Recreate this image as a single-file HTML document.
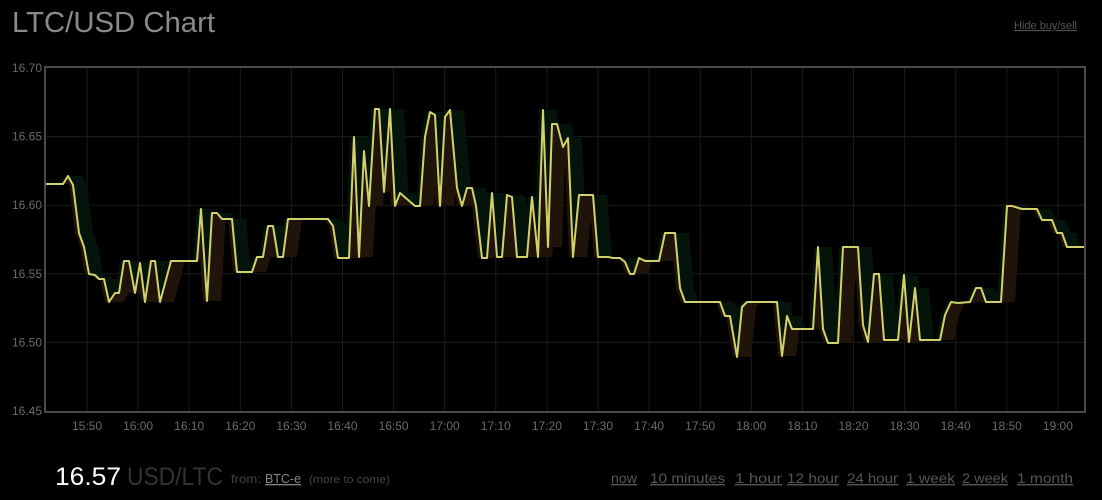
<!DOCTYPE html>
<html><head><meta charset="utf-8"><style>
html,body{margin:0;padding:0;background:#000;width:1102px;height:500px;overflow:hidden;font-family:"Liberation Sans",sans-serif}
svg text{font-family:"Liberation Sans",sans-serif}
</style></head><body>
<svg id="s" width="1102" height="500" xmlns="http://www.w3.org/2000/svg">
<rect width="1102" height="500" fill="#000"/>
<text x="12" y="32" font-size="29" fill="#8a8a8a" textLength="203" lengthAdjust="spacingAndGlyphs">LTC/USD Chart</text>
<text x="1077" y="29" font-size="11" fill="#555" text-anchor="end" text-decoration="underline">Hide buy/sell</text>
<g id="grid" stroke="#1b1b1b" stroke-width="1"></g>
<g id="fills"></g>
<polyline id="line" fill="none" stroke="#d2d26a" stroke-width="2" stroke-linejoin="round"/>
<rect x="45" y="67" width="1040" height="345" fill="none" stroke="#4a4a4a" stroke-width="2"/>
<g id="ylab" font-size="12" fill="#6a6a6a" text-anchor="end"></g>
<g id="xlab" font-size="12" fill="#6a6a6a" text-anchor="middle"></g>
<text x="55" y="485" font-size="25" fill="#fff" textLength="66" lengthAdjust="spacingAndGlyphs">16.57</text>
<text x="127" y="485" font-size="25" fill="#333" textLength="96" lengthAdjust="spacingAndGlyphs">USD/LTC</text>
<text x="231" y="483" font-size="12" fill="#444" textLength="30" lengthAdjust="spacingAndGlyphs">from:</text>
<text x="265" y="483" font-size="13" fill="#888" text-decoration="underline" textLength="36" lengthAdjust="spacingAndGlyphs">BTC-e</text>
<text x="309" y="483" font-size="11" fill="#444" textLength="81" lengthAdjust="spacingAndGlyphs">(more to come)</text>
<g font-size="14" fill="#555" text-decoration="underline">
<text x="611" y="483" textLength="26" lengthAdjust="spacingAndGlyphs">now</text>
<text x="650" y="483" textLength="75" lengthAdjust="spacingAndGlyphs">10 minutes</text>
<text x="735" y="483" textLength="47" lengthAdjust="spacingAndGlyphs">1 hour</text>
<text x="787" y="483" textLength="52" lengthAdjust="spacingAndGlyphs">12 hour</text>
<text x="847" y="483" textLength="51" lengthAdjust="spacingAndGlyphs">24 hour</text>
<text x="906" y="483" textLength="49" lengthAdjust="spacingAndGlyphs">1 week</text>
<text x="962" y="483" textLength="46" lengthAdjust="spacingAndGlyphs">2 week</text>
<text x="1017" y="483" textLength="56" lengthAdjust="spacingAndGlyphs">1 month</text>
</g>
</svg>
<script>
var NS="http://www.w3.org/2000/svg";
function el(t,a,p){var e=document.createElementNS(NS,t);for(var k in a)e.setAttribute(k,a[k]);p.appendChild(e);return e;}
var grid=document.getElementById('grid'),yl=document.getElementById('ylab'),xl=document.getElementById('xlab');
var ys=[16.70,16.65,16.60,16.55,16.50,16.45];
ys.forEach(function(v,i){var y=68+i*68.6;if(i>0&&i<5)el('line',{x1:45,x2:1085,y1:y,y2:y},grid);var t=el('text',{x:42,y:y+4},yl);t.textContent=v.toFixed(2);});
var lab=["15:50","16:00","16:10","16:20","16:30","16:40","16:50","17:00","17:10","17:20","17:30","17:40","17:50","18:00","18:10","18:20","18:30","18:40","18:50","19:00"];
lab.forEach(function(l,i){var x=87+i*51.1;el('line',{x1:x,x2:x,y1:67,y2:412},grid);var t=el('text',{x:x,y:430},xl);t.textContent=l;});
var P=[[46,184],[63,184],[68,176],[73,185],[79,233],[84,247],[89,274],[95,275],[99,279],[104,279],[109,302],[115,293],[119,293],[124,261],[129,261],[135,293],[140,263],[145,302],[151,261],[155,261],[160,302],[171,261],[197,261],[201,209],[207,301],[212,213],[217,213],[222,219],[232,219],[237,272],[252,272],[257,257],[263,257],[268,226],[273,226],[278,257],[283,257],[288,219],[328,219],[333,226],[338,258],[349,258],[354,137],[359,257],[364,151],[369,206],[375,109],[379,109],[384,192],[390,109],[395,206],[400,193],[415,206],[420,206],[425,137],[430,112],[435,115],[440,206],[445,117],[450,110],[457,188],[462,206],[467,188],[472,188],[476,206],[482,258],[487,258],[492,193],[497,257],[502,257],[507,195],[512,197],[517,257],[527,257],[532,197],[538,257],[543,110],[548,247],[552,124],[557,124],[563,147],[568,138],[573,257],[579,195],[593,195],[598,257],[608,257],[613,258],[620,258],[625,262],[630,274],[634,274],[639,258],[645,261],[659,261],[665,233],[675,233],[680,288],[685,302],[720,302],[725,316],[730,316],[737,357],[742,307],[747,302],[777,302],[782,356],[787,316],[792,329],[813,329],[818,247],[823,329],[828,343],[838,343],[843,247],[858,247],[863,325],[868,342],[874,274],[879,274],[884,340],[898,340],[904,275],[909,342],[915,288],[920,340],[940,340],[945,315],[951,302],[958,303],[970,302],[976,288],[981,288],[986,302],[1001,302],[1007,206],[1012,206],[1022,209],[1037,209],[1042,220],[1052,220],[1057,233],[1062,233],[1067,247],[1084,247]];
document.getElementById('line').setAttribute('points',P.map(function(p){return p.join(',')}).join(' '));
function yat(x){for(var i=1;i<P.length;i++){if(x<=P[i][0]){var a=P[i-1],b=P[i];return a[1]+(b[1]-a[1])*(x-a[0])/(b[0]-a[0]||1);}}return P[P.length-1][1];}
var S=[];for(var x=46;x<=1084;x++)S.push([x,yat(x)]);
var hi=[],lo=[];
for(var i=0;i<S.length;i++){var mn=1e9,mx=-1e9;for(var j=Math.max(0,i-14);j<=Math.min(S.length-1,i+4);j++){mn=Math.min(mn,S[j][1]);mx=Math.max(mx,S[j][1]);}hi.push([S[i][0],mn]);lo.push([S[i][0],mx]);}
var f=document.getElementById('fills');
function poly(a,b,c){var pts=a.concat(b.slice().reverse());el('polygon',{points:pts.map(function(p){return p.join(',')}).join(' '),fill:c},f);}
poly(hi,S,'#04140a');poly(S,lo,'#20140a');
</script>
</body></html>
